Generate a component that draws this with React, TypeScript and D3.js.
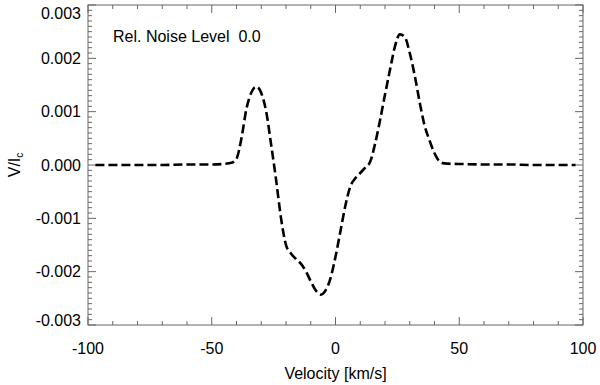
import React, { useEffect, useRef } from "react";
import * as d3 from "d3";

// velocity grid [km/s] and Stokes V / Ic
const velocity = [
  -97, -90, -80, -70, -60, -50, -45, -42, -40, -38, -36, -34, -32, -30, -28, -26, -24, -22, -20, -18,
  -16, -14, -12, -10, -8, -6, -4, -2, 0, 2, 4, 6, 8, 10, 12, 14, 16, 18, 20, 22, 24, 26, 28, 30, 32,
  34, 36, 38, 40, 42, 44, 50, 60, 70, 80, 90, 97,
];
const stokesV = [
  0, 0, 0, 0, 0.00001, 0.00001, 0.00002, 0.00004, 0.00012, 0.0005, 0.00105, 0.00136, 0.00147, 0.00135,
  0.001, 0.00038, -0.00028, -0.001, -0.0015, -0.00166, -0.00176, -0.00185, -0.00199, -0.00218, -0.00235,
  -0.00243, -0.00235, -0.00212, -0.00172, -0.00124, -0.00076, -0.0004, -0.00025, -0.00015, -0.00005,
  0.00006, 0.0004, 0.00084, 0.00132, 0.00178, 0.00222, 0.00245, 0.0024, 0.0021, 0.00168, 0.00118,
  0.00074, 0.00046, 0.00022, 0.00007, 0.00003, 0.00002, 0.00001, 0.00001, 0, 0, 0,
];
const xTicks = [-100, -50, 0, 50, 100];
const yTicks = [-0.003, -0.002, -0.001, 0, 0.001, 0.002, 0.003];
const noiseLevel = "0.0";

// plain hyphen instead of d3's unicode minus
const hyph = (s: string) => s.replace("\u2212", "-");

const App = () => {
  const ref = useRef<SVGSVGElement>(null);

  useEffect(() => {
    const svg = d3.select(ref.current);
    svg.selectAll("*").remove();
    const left = 88, right = 583, top = 5, bottom = 325;
    const font = "'Liberation Sans', Arial, Helvetica, sans-serif";
    const axisColor = "#666";

    const x = d3.scaleLinear().domain([-100, 100]).range([left, right]);
    const y = d3.scaleLinear().domain([-0.003, 0.003]).range([bottom, top]);

    // frame
    svg.append("rect")
      .attr("x", left).attr("y", top)
      .attr("width", right - left).attr("height", bottom - top)
      .attr("fill", "none").attr("stroke", axisColor).attr("stroke-width", 1);

    // x ticks (bottom and top, pointing in)
    const xMinor = d3.range(-100, 100.1, 10);
    xMinor.forEach((v) => {
      const len = xTicks.includes(v) ? 8 : 4;
      svg.append("line").attr("x1", x(v)).attr("x2", x(v)).attr("y1", bottom).attr("y2", bottom - len)
        .attr("stroke", axisColor);
      svg.append("line").attr("x1", x(v)).attr("x2", x(v)).attr("y1", top).attr("y2", top + len)
        .attr("stroke", axisColor);
    });
    const yMinor = d3.range(-30, 30.1, 1).map((k) => k / 10000);
    yMinor.forEach((v, i) => {
      const len = (i - 30) % 10 === 0 ? 8 : 4;
      svg.append("line").attr("x1", left).attr("x2", left + len).attr("y1", y(v)).attr("y2", y(v))
        .attr("stroke", axisColor);
      svg.append("line").attr("x1", right).attr("x2", right - len).attr("y1", y(v)).attr("y2", y(v))
        .attr("stroke", axisColor);
    });

    svg.append("g").selectAll("text").data(xTicks).join("text")
      .attr("x", (d) => x(d)).attr("y", 354)
      .attr("text-anchor", "middle")
      .attr("font-family", font).attr("font-size", 16)
      .text((d) => hyph(d3.format("d")(d)));

    svg.append("g").selectAll("text").data(yTicks).join("text")
      .attr("x", 81).attr("y", (d) => Math.min(Math.max(y(d), 13), 320) + 5.5)
      .attr("text-anchor", "end")
      .attr("font-family", font).attr("font-size", 16)
      .text((d) => hyph(d3.format(".3f")(d)));

    svg.append("text")
      .attr("x", (left + right) / 2).attr("y", 379)
      .attr("text-anchor", "middle")
      .attr("font-family", font).attr("font-size", 16)
      .text("Velocity [km/s]");

    const yl = svg.append("text")
      .attr("transform", `translate(20,${(top + bottom) / 2}) rotate(-90)`)
      .attr("text-anchor", "middle")
      .attr("font-family", font).attr("font-size", 16);
    yl.append("tspan").text("V/I");
    yl.append("tspan").attr("font-size", 10).attr("dy", 3).text("c");

    svg.append("text")
      .attr("x", 113).attr("y", 42)
      .attr("xml:space", "preserve")
      .style("white-space", "pre")
      .attr("font-family", font).attr("font-size", 16)
      .text(`Rel. Noise Level  ${noiseLevel}`);

    const line = d3.line<number>()
      .x((_, i) => x(velocity[i]))
      .y((d) => y(d))
      .curve(d3.curveMonotoneX);

    svg.append("path")
      .datum(stokesV)
      .attr("d", line)
      .attr("fill", "none")
      .attr("stroke", "#000")
      .attr("stroke-width", 2.6)
      .attr("stroke-dasharray", "9,4");
  }, []);

  return (
    <svg
      ref={ref}
      width={600}
      height={385}
      style={{ position: "absolute", left: 0, top: 0, background: "#fff" }}
    />
  );
};

export default App;
